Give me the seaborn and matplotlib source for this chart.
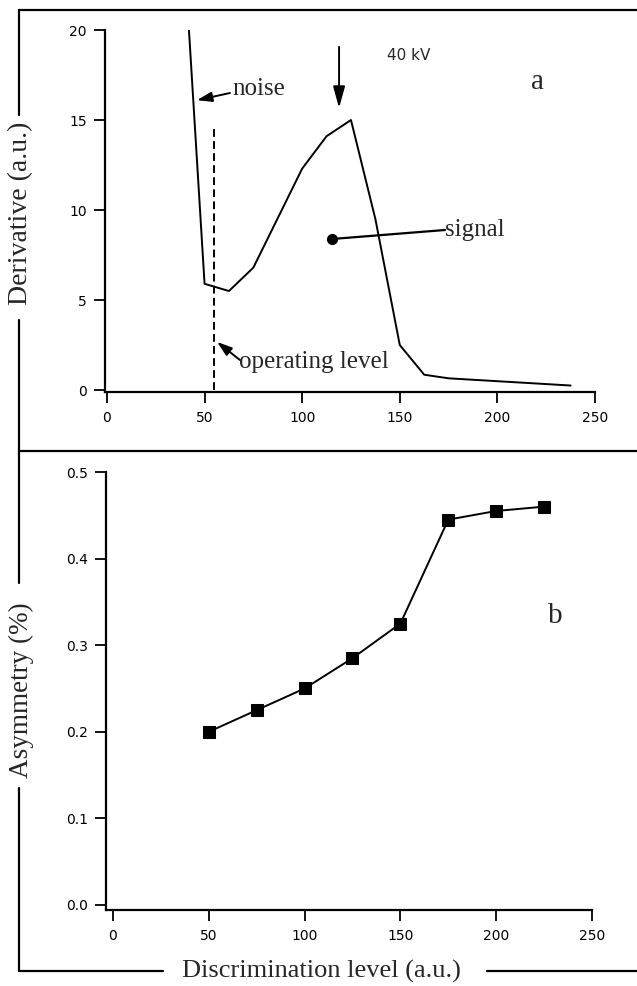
import matplotlib
matplotlib.use("Agg")
import matplotlib.pyplot as plt
from matplotlib.lines import Line2D
import seaborn as sns
import pandas as pd

# ---- data ----
deriv_x = [42, 50, 62.5, 75, 100, 112.5, 125, 137.5, 150, 162.5, 175, 237.5]
deriv_y = [20, 5.9, 5.5, 6.8, 12.3, 14.1, 15.0, 9.5, 2.5, 0.85, 0.65, 0.25]
asym_x = [50, 75, 100, 125, 150, 175, 200, 225]
asym_y = [0.20, 0.225, 0.25, 0.285, 0.325, 0.445, 0.455, 0.46]
operating_level = 55
x_ticks = [0, 50, 100, 150, 200, 250]
a_yticks = [0, 5, 10, 15, 20]
b_yticks = [0.0, 0.1, 0.2, 0.3, 0.4, 0.5]
b_yticklabels = ["0.0", "0.1", "0.2", "0.3", "0.4", "0.5"]

sns.set_theme(style="ticks")
plt.rcParams["font.family"] = ["DejaVu Sans"]
SERIF = ["Liberation Serif", "DejaVu Serif"]
TICKFONT = ["DejaVu Sans"]

W, H = 637, 986
fig = plt.figure(figsize=(W / 100, H / 100), dpi=100)
fig.patch.set_facecolor("white")

def ax_rect(l, t, r, b):
    return [l / W, 1 - b / H, (r - l) / W, (b - t) / H]

ax_a = fig.add_axes(ax_rect(105, 30, 595, 392))
ax_b = fig.add_axes(ax_rect(106, 472, 592, 910))

df_a = pd.DataFrame({"x": deriv_x, "y": deriv_y})
df_b = pd.DataFrame({"x": asym_x, "y": asym_y})

sns.lineplot(data=df_a, x="x", y="y", ax=ax_a, color="black", lw=1.4,
             sort=False, clip_on=True)
sns.lineplot(data=df_b, x="x", y="y", ax=ax_b, color="black", lw=1.4,
             marker="s", markersize=8, markeredgecolor="black",
             markerfacecolor="black", sort=False)

for ax in (ax_a, ax_b):
    sns.despine(ax=ax)
    for s in ("left", "bottom"):
        ax.spines[s].set_linewidth(1.6)
        ax.spines[s].set_color("black")
    ax.tick_params(direction="out", length=8, width=1.3, colors="black",
                   labelsize=10)
    ax.tick_params(axis="x", pad=6)
    ax.tick_params(axis="y", pad=5)
    ax.set_xticks(x_ticks)
    ax.set_xticklabels([str(v) for v in x_ticks], family=TICKFONT)
    ax.set_xlabel("")
    ax.set_ylabel("")
    ax.set_facecolor("white")
    ax.grid(False)

ax_a.set_xlim(-1, 250)
ax_a.set_ylim(-0.11, 20)
ax_a.set_yticks(a_yticks)
ax_a.set_yticklabels([str(v) for v in a_yticks], family=TICKFONT)

ax_b.set_xlim(-3.65, 250)
ax_b.set_ylim(-0.0058, 0.5)
ax_b.set_yticks(b_yticks)
ax_b.set_yticklabels(b_yticklabels, family=TICKFONT)

# ---- panel a annotations ----
ax_a.plot([operating_level, operating_level], [0, 14.56], color="black",
          lw=1.4, ls=(0, (4, 2.2)))
ax_a.annotate("", xy=(46.1, 16.1), xytext=(63.0, 16.5),
              arrowprops=dict(arrowstyle="-|>,head_length=0.9,head_width=0.3",
                              mutation_scale=10, lw=1.4, color="black",
                              shrinkA=0, shrinkB=0))
ax_a.text(64.5, 16.7, "noise", family=SERIF, fontsize=18, va="center",
          ha="left")
ax_a.annotate("", xy=(56.4, 2.67), xytext=(68.1, 1.67),
              arrowprops=dict(arrowstyle="-|>,head_length=0.9,head_width=0.3",
                              mutation_scale=10, lw=1.4, color="black",
                              shrinkA=0, shrinkB=0))
ax_a.text(67.6, 1.55, "operating level", family=SERIF, fontsize=18,
          va="center", ha="left")
ax_a.plot([115.3, 173.2], [8.39, 8.89], color="black", lw=1.6)
ax_a.plot([115.3], [8.39], marker="o", markersize=7, color="black")
ax_a.text(173.4, 8.9, "signal", family=SERIF, fontsize=18, va="center",
          ha="left")
ax_a.annotate("", xy=(118.9, 15.67), xytext=(118.9, 19.06),
              arrowprops=dict(arrowstyle="-|>,head_length=1.3,head_width=0.36",
                              mutation_scale=10, lw=1.4, color="black",
                              shrinkA=0, shrinkB=0))
ax_a.text(143.4, 18.6, "40 kV", family=TICKFONT, fontsize=11, va="center",
          ha="left")
ax_a.text(220.3, 17.1, "a", family=SERIF, fontsize=21, va="center",
          ha="center")

ax_b.text(230.7, 0.334, "b", family=SERIF, fontsize=21, va="center",
          ha="center")

# ---- outer frame ----
def fline(x0, y0, x1, y1):
    fig.add_artist(Line2D([x0 / W, x1 / W], [1 - y0 / H, 1 - y1 / H],
                          transform=fig.transFigure, color="black", lw=1.6))

fline(19, 10, 637, 10)          # top
fline(19, 451, 637, 451)        # separator
fline(19, 10, 19, 115)          # left pieces
fline(19, 320, 19, 583)
fline(19, 788, 19, 971)
fline(19, 971, 163, 971)        # bottom pieces
fline(487, 971, 637, 971)

fig.text(21 / W, 1 - 213 / H, "Derivative (a.u.)", family=SERIF,
         fontsize=20, rotation=90, ha="center", va="center")
fig.text(21 / W, 1 - 690 / H, "Asymmetry (%)", family=SERIF,
         fontsize=19.5, rotation=90, ha="center", va="center")
fig.text(321 / W, 1 - 971 / H, "Discrimination level (a.u.)", family=SERIF,
         fontsize=19, ha="center", va="center")

fig.savefig("out.png", dpi=100, facecolor="white")
